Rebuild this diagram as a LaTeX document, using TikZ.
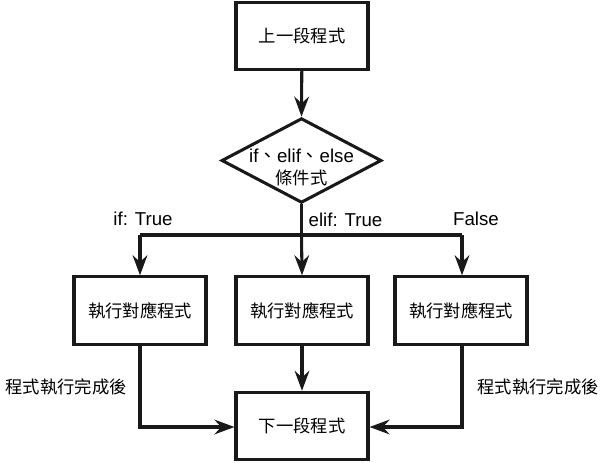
\documentclass[tikz,border=0pt]{standalone}
\usepackage{fontspec}
\setmainfont{Liberation Sans}
\newfontfamily\cjk{Noto Sans CJK TC}
\usetikzlibrary{arrows.meta,shapes.geometric}
\begin{document}
\begin{tikzpicture}[x=0.75pt,y=-0.75pt,
  every node/.style={line width=2.3pt},
  procbox/.style={draw=black!90, line width=2.3pt, minimum width=99pt, minimum height=50.5pt, inner sep=0pt, font=\cjk\fontsize{13}{16}\selectfont},
  lbl/.style={inner sep=0pt, font=\fontsize{14}{16}\selectfont},
  cjklbl/.style={inner sep=0pt, font=\cjk\fontsize{13}{16}\selectfont},
  conn/.style={draw=black!90, line width=2.3pt, -{Stealth[length=15pt,width=11pt,inset=5pt]}},
  plain/.style={draw=black!90, line width=2.3pt}
]
\useasboundingbox (0,0) rectangle (602,462);
\node[procbox] (top) at (302,36) {上一段程式};
\node[draw=black!90, line width=2.3pt, diamond, minimum width=120pt, minimum height=63.5pt, inner sep=0pt] (dec) at (301.5,160.5) {};
\node[align=center, inner sep=0pt, font=\fontsize{14}{17.5}\selectfont] (dect) at (301.5,167) {if{\cjk 、}elif{\cjk 、}else\\[-1pt]{\cjk\fontsize{13}{16}\selectfont 條件式}};
\node[procbox] (left) at (140,310.5) {執行對應程式};
\node[procbox] (mid) at (302,310.5) {執行對應程式};
\node[procbox] (right) at (461,310.5) {執行對應程式};
\node[procbox] (bot) at (302,426) {下一段程式};
\coordinate (split) at (301.5,235);
\coordinate (lc) at (140,235);
\coordinate (rc) at (462,235);
\coordinate (lb) at (140,427);
\coordinate (rb) at (462,427);
\node[lbl] (iflbl) at (143,219) {if: True};
\node[lbl] (eliflbl) at (345.5,220) {elif: True};
\node[lbl] (falselbl) at (476,219) {False};
\node[cjklbl] (ldone) at (66,387) {程式執行完成後};
\node[cjklbl] (rdone) at (538,387) {程式執行完成後};
\draw[conn] (top) -- (dec.north);
\draw[plain] (dec.south) -- (split);
\draw[plain] (lc) -- (rc);
\draw[conn] (lc) -- (left.north);
\draw[conn] (split) -- (mid.north);
\draw[conn] (rc) -- (right.north -| rc);
\draw[conn] (mid) -- (bot);
\draw[conn] (left.south) -- (lb) -- (bot.west |- lb);
\draw[conn] (right.south -| rb) -- (rb) -- (bot.east |- rb);
\end{tikzpicture}
\end{document}
